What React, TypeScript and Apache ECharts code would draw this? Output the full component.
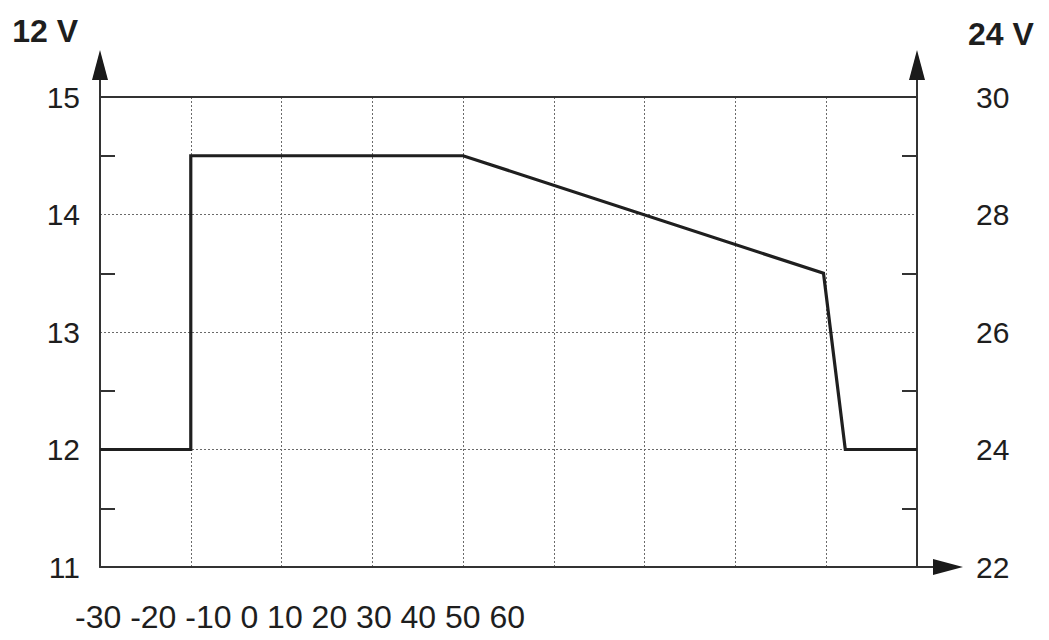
import React, { useEffect, useRef } from "react";
import * as echarts from "echarts";

// Temperature (°C) breakpoints of the charging-voltage curve
const tempPoints = [-30, -20, -20, 10, 49.7, 52.1, 60];
// Voltage for the 12 V system at those points
const volt12 = [12, 12, 14.5, 14.5, 13.5, 12, 12];
// Axis tick labels
const xTickLabels = ["-30", "-20", "-10", "0", "10", "20", "30", "40", "50", "60"];
const leftAxisName = "12 V";
const rightAxisName = "24 V";

const FONT = "'Liberation Sans', Arial, Helvetica, sans-serif";
const AXIS_COLOR = "#333";
const TEXT_COLOR = "#1e1e1e";
const GRID_COLOR = "#6a6a6a";

export default function App() {
  const ref = useRef<HTMLDivElement>(null);

  useEffect(() => {
    if (!ref.current) return;
    const chart = echarts.init(ref.current, undefined, { renderer: "svg" });
    const xMin = Number(xTickLabels[0]);
    const xMax = Number(xTickLabels[xTickLabels.length - 1]);

    chart.setOption({
      animation: false,
      backgroundColor: "#fff",
      grid: { left: 100, right: 132, top: 97, bottom: 73 },
      xAxis: [
        {
          type: "value",
          min: xMin,
          max: xMax,
          interval: 10,
          position: "bottom",
          axisLine: { show: true, onZero: false, lineStyle: { color: AXIS_COLOR, width: 2 } },
          axisTick: { show: false },
          axisLabel: { show: false },
          splitLine: { show: true, lineStyle: { type: [2, 2], color: GRID_COLOR, width: 1 } },
        },
        {
          type: "value",
          min: xMin,
          max: xMax,
          interval: 10,
          position: "top",
          axisLine: { show: true, onZero: false, lineStyle: { color: AXIS_COLOR, width: 2 } },
          axisTick: { show: false },
          axisLabel: { show: false },
          splitLine: { show: false },
        },
      ],
      yAxis: [
        {
          type: "value",
          min: 11,
          max: 15,
          interval: 1,
          position: "left",
          name: leftAxisName,
          nameLocation: "end",
          nameGap: 66,
          nameTextStyle: {
            fontFamily: FONT,
            fontSize: 32,
            fontWeight: "bold",
            color: TEXT_COLOR,
            align: "right",
            verticalAlign: "middle",
            padding: [0, 22, 0, 0],
          },
          axisLine: { show: true, onZero: false, lineStyle: { color: AXIS_COLOR, width: 2 } },
          axisTick: { show: false, inside: true },
          minorTick: { show: true, splitNumber: 2, length: 15, lineStyle: { color: AXIS_COLOR, width: 2 } },
          axisLabel: { fontFamily: FONT, fontSize: 30, color: TEXT_COLOR, margin: 20 },
          splitLine: { show: true, lineStyle: { type: [2, 2], color: GRID_COLOR, width: 1 } },
        },
        {
          type: "value",
          min: 22,
          max: 30,
          interval: 2,
          position: "right",
          name: rightAxisName,
          nameLocation: "end",
          nameGap: 63,
          nameTextStyle: {
            fontFamily: FONT,
            fontSize: 32,
            fontWeight: "bold",
            color: TEXT_COLOR,
            align: "left",
            verticalAlign: "middle",
            padding: [0, 0, 0, 51],
          },
          axisLine: { show: true, onZero: false, lineStyle: { color: AXIS_COLOR, width: 2 } },
          axisTick: { show: false, inside: true },
          minorTick: { show: true, splitNumber: 2, length: 15, lineStyle: { color: AXIS_COLOR, width: 2 } },
          axisLabel: { fontFamily: FONT, fontSize: 30, color: TEXT_COLOR, margin: 59 },
          splitLine: { show: false },
        },
      ],
      series: [
        {
          type: "line",
          xAxisIndex: 0,
          yAxisIndex: 0,
          symbol: "none",
          lineStyle: { color: "#1f1f1f", width: 3.2, join: "miter" },
          data: tempPoints.map((t, i) => [t, volt12[i]]),
          z: 5,
        },
      ],
    });

    // Axis arrows (decoration), positioned from the axes' own scale
    const tl = chart.convertToPixel({ xAxisIndex: 0, yAxisIndex: 0 }, [xMin, 15]) as number[];
    const tr = chart.convertToPixel({ xAxisIndex: 0, yAxisIndex: 0 }, [xMax, 15]) as number[];
    const br = chart.convertToPixel({ xAxisIndex: 0, yAxisIndex: 0 }, [xMax, 11]) as number[];
    const lineStyle = { stroke: AXIS_COLOR, lineWidth: 2 };
    const fill = { fill: "#1a1a1a" };
    const upArrow = (p: number[]) => [
      { type: "line", shape: { x1: p[0], y1: p[1], x2: p[0], y2: p[1] - 18 }, style: lineStyle, silent: true },
      {
        type: "polygon",
        shape: { points: [[p[0], p[1] - 47], [p[0] - 8, p[1] - 17], [p[0] + 8, p[1] - 17]] },
        style: fill,
        silent: true,
      },
    ];
    chart.setOption({
      graphic: [
        ...upArrow(tl),
        ...upArrow(tr),
        { type: "line", shape: { x1: br[0], y1: br[1], x2: br[0] + 17, y2: br[1] }, style: lineStyle, silent: true },
        {
          type: "polygon",
          shape: { points: [[br[0] + 46, br[1]], [br[0] + 16, br[1] - 8], [br[0] + 16, br[1] + 8]] },
          style: fill,
          silent: true,
        },
        {
          type: "text",
          left: 75,
          top: 601,
          style: {
            text: xTickLabels.join(" "),
            font: `32px ${FONT}`,
            fill: TEXT_COLOR,
          },
        },
      ],
    });

    return () => chart.dispose();
  }, []);

  return (
    <div
      ref={ref}
      style={{ position: "fixed", left: 0, top: 0, width: 1049, height: 640, background: "#fff" }}
    />
  );
}
